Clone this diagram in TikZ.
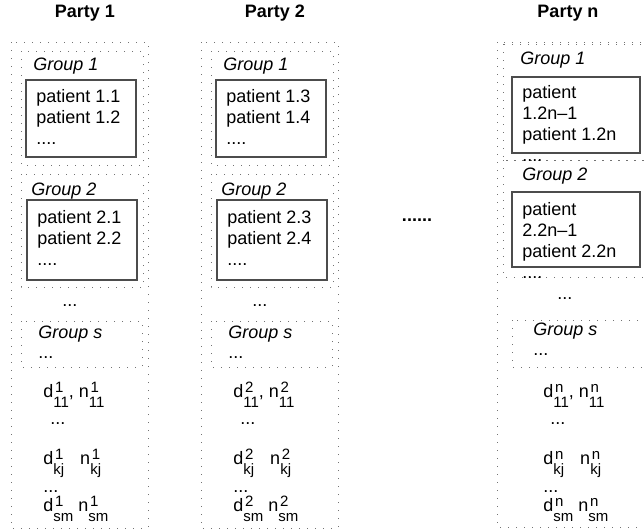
\documentclass[tikz,border=0pt]{standalone}
\usepackage{fontspec}
\setmainfont{Liberation Sans}
\usepackage{tikz}
\tikzset{
  dotbox/.style={draw=black!55, line width=0.5pt, dash pattern=on 0.5pt off 3.5pt},
  solidbox/.style={draw=black!70, line width=0.6pt},
  txt/.style={inner sep=0pt, anchor=base west, font=\fontsize{9}{10.5}\selectfont},
  grouplabel/.style={txt, font=\fontsize{9}{10.5}\selectfont\itshape},
  lines/.style={inner sep=0pt, anchor=north west, align=left, font=\fontsize{9}{10.5}\selectfont},
  partytitle/.style={inner sep=0pt, anchor=base, font=\fontsize{9}{10.5}\selectfont\bfseries}
}
\newcommand{\scriptText}[1]{{\fontsize{7.5}{8}\selectfont#1}}
\newcommand{\statTerm}[3]{#1\rlap{\hspace{0.8pt}\raisebox{2.5pt}{\scriptText{#2}}}\raisebox{-5pt}{\scriptText{#3}}}
\newcommand{\partyColumn}[5]{ \begin{scope}[shift={(#1,0)}]
  \node[partytitle] (#2title) at (85,17) {Party #3};
  \draw[dotbox] (11,42) rectangle (148,528);
  \draw[dotbox] (21,51) rectangle (143,165) (21,174) rectangle (143,287)
    (21,321) rectangle (142,367);
  \draw[solidbox] (26,80) rectangle (136,157) (27,200) rectangle (137,280);
  \node[grouplabel] (#2groupA) at (33,70) {Group 1};
  \node[lines] (#2patientsA) at (36,89) {patient 1.#4\\patient 1.#5\\....};
  \node[grouplabel] (#2groupB) at (31,195) {Group 2};
  \node[lines] (#2patientsB) at (37,210) {patient 2.#4\\patient 2.#5\\....};
  \node[txt] (#2gap) at (62,306) {...};
  \node[grouplabel] (#2groupS) at (38,338) {Group s};
  \node[txt] (#2groupSdots) at (38,358) {...};
  \node[txt] (#2statA) at (43,397) {\statTerm{d}{#3}{11}, \statTerm{n}{#3}{11}};
  \node[txt] (#2statdots) at (50,424) {...};
  \node[txt] (#2statB) at (43,464) {\statTerm{d}{#3}{kj}\hspace{8pt}\statTerm{n}{#3}{kj}};
  \node[txt] (#2statCdots) at (43,492) {...};
  \node[txt] (#2statC) at (43,511) {\statTerm{d}{#3}{sm} \statTerm{n}{#3}{sm}};
  \end{scope} }

\begin{document}
\begin{tikzpicture}[x=0.5pt, y=-0.5pt]
  \useasboundingbox (0,0) rectangle (644,531);
  \clip (0,0) rectangle (644,531);
  \partyColumn{0}{pa}{1}{1}{2}
  \partyColumn{190}{pb}{2}{3}{4}
  \node[partytitle] (between) at (417,221) {......};
  % last party, cut off on the right
  \node[partytitle] (pntitle) at (568,17) {Party n};
  \draw[dotbox] (497,42) rectangle (660,527);
  \draw[dotbox] (503,44) rectangle (660,160) (503,160) rectangle (660,277)
    (512,320) rectangle (660,367);
  \draw[solidbox] (512,77) rectangle (640,153) (512,192) rectangle (640,267);
  \node[grouplabel] (pngroupA) at (520,64) {Group 1};
  \node[lines] (pnpatientsA) at (522,85) {patient\\1.2n--1\\patient 1.2n\\....};
  \node[grouplabel] (pngroupB) at (522,180) {Group 2};
  \node[lines] (pnpatientsB) at (522,202) {patient\\2.2n--1\\patient 2.2n\\....};
  \node[txt] (pngap) at (557,299) {...};
  \node[grouplabel] (pngroupS) at (533,335) {Group s};
  \node[txt] (pngroupSdots) at (533,355) {...};
  \node[txt] (pnstatA) at (543,397) {\statTerm{d}{n}{11}, \statTerm{n}{n}{11}};
  \node[txt] (pnstatdots) at (550,424) {...};
  \node[txt] (pnstatB) at (543,464) {\statTerm{d}{n}{kj}\hspace{8pt}\statTerm{n}{n}{kj}};
  \node[txt] (pnstatCdots) at (543,492) {...};
  \node[txt] (pnstatC) at (543,511) {\statTerm{d}{n}{sm} \statTerm{n}{n}{sm}};
\end{tikzpicture}
\end{document}
